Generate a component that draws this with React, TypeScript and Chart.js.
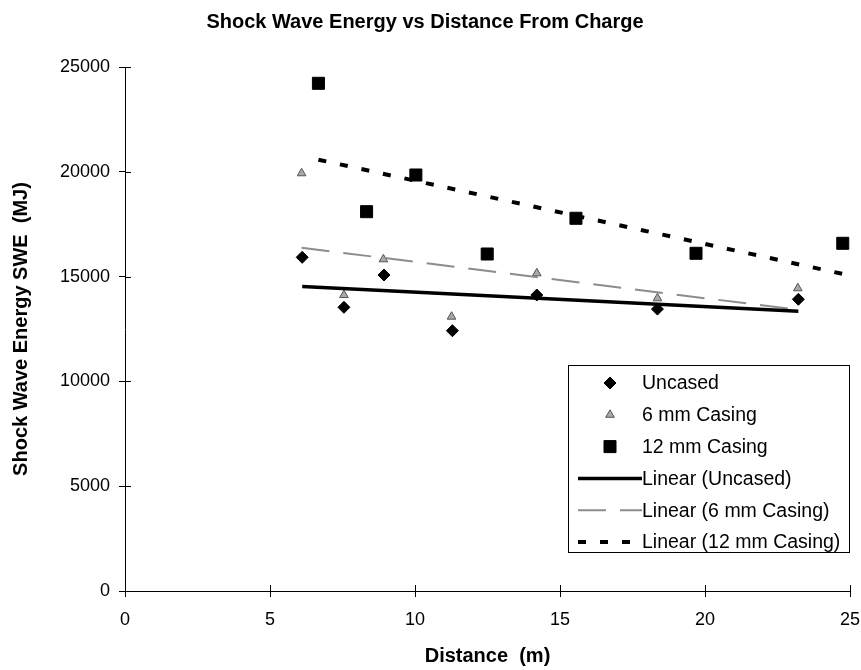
import React, { useEffect, useRef } from "react";
import { Chart, registerables } from "chart.js";

Chart.register(...registerables);

// ---- data ----
const uncasedX = [6.11, 7.55, 8.93, 11.29, 14.2, 18.36, 23.22];
const uncasedY = [15920, 13535, 15076, 12419, 14122, 13450, 13917];
const casing6X = [6.09, 7.55, 8.91, 11.26, 14.2, 18.36, 23.2];
const casing6Y = [19930, 14120, 15825, 13087, 15157, 13965, 14442];
const casing12X = [6.67, 8.33, 10.03, 12.49, 15.55, 19.69, 24.75];
const casing12Y = [24222, 18097, 19847, 16078, 17782, 16112, 16589];

const seriesNames = ["Uncased", "6 mm Casing", "12 mm Casing"];
const xTicks = [0, 5, 10, 15, 20, 25];
const yTicks = [0, 5000, 10000, 15000, 20000, 25000];

const FONT = "'Liberation Sans', Arial, sans-serif";

function toPoints(xs: number[], ys: number[]) {
  return xs.map((x, i) => ({ x, y: ys[i] }));
}

// least-squares trend line (as Excel's "Linear" trendline), spanning the data range
function trend(xs: number[], ys: number[]) {
  const n = xs.length;
  const mx = xs.reduce((a, b) => a + b, 0) / n;
  const my = ys.reduce((a, b) => a + b, 0) / n;
  let sxy = 0;
  let sxx = 0;
  for (let i = 0; i < n; i++) {
    sxy += (xs[i] - mx) * (ys[i] - my);
    sxx += (xs[i] - mx) * (xs[i] - mx);
  }
  const b = sxy / sxx;
  const a = my - b * mx;
  const x0 = Math.min(...xs);
  const x1 = Math.max(...xs);
  return [
    { x: x0, y: a + b * x0 },
    { x: x1, y: a + b * x1 },
  ];
}

function drawMarker(ctx: CanvasRenderingContext2D, style: string, x: number, y: number, r: number, fill: string, stroke: string) {
  ctx.save();
  ctx.fillStyle = fill;
  ctx.strokeStyle = stroke;
  ctx.lineWidth = 1;
  ctx.beginPath();
  if (style === "rectRot") {
    ctx.moveTo(x - r, y);
    ctx.lineTo(x, y - r);
    ctx.lineTo(x + r, y);
    ctx.lineTo(x, y + r);
  } else if (style === "rect") {
    const s = r * Math.SQRT1_2;
    ctx.rect(x - s, y - s, 2 * s, 2 * s);
  } else {
    const h = (r * 3) / Math.sqrt(3);
    ctx.moveTo(x, y - r);
    ctx.lineTo(x + h / 2, y + r / 2);
    ctx.lineTo(x - h / 2, y + r / 2);
  }
  ctx.closePath();
  ctx.fill();
  ctx.stroke();
  ctx.restore();
}

const boxLegend = {
  id: "boxLegend",
  afterDraw(chart: any) {
    const { ctx, chartArea } = chart;
    const w = 282;
    const h = 188;
    const left = chartArea.right - w;
    const top = chartArea.bottom - 38 - h;
    ctx.save();
    ctx.fillStyle = "#fff";
    ctx.fillRect(left, top, w, h);
    ctx.strokeStyle = "#000";
    ctx.lineWidth = 1;
    ctx.strokeRect(left + 0.5, top + 0.5, w - 1, h - 1);
    ctx.font = `19.5px ${FONT}`;
    ctx.textBaseline = "middle";
    ctx.textAlign = "left";
    chart.data.datasets.forEach((ds: any, i: number) => {
      const y = top + 18 + i * 31.8;
      if (ds.showLine) {
        ctx.save();
        ctx.strokeStyle = ds.borderColor;
        ctx.lineWidth = ds.borderWidth;
        ctx.setLineDash(ds.borderDash || []);
        ctx.beginPath();
        ctx.moveTo(left + 10, y);
        ctx.lineTo(left + 74, y);
        ctx.stroke();
        ctx.restore();
      } else {
        drawMarker(ctx, ds.pointStyle, left + 42, y, ds.pointRadius, ds.backgroundColor, ds.borderColor);
      }
      ctx.fillStyle = "#000";
      ctx.fillText(ds.label, left + 74, y + 1);
    });
    ctx.restore();
  },
};

const crossTicks = {
  id: "crossTicks",
  afterDatasetsDraw(chart: any) {
    const { ctx, scales } = chart;
    const xs = scales.x;
    const ys = scales.y;
    ctx.save();
    ctx.strokeStyle = "#000";
    ctx.lineWidth = 1;
    ctx.beginPath();
    xs.ticks.forEach((t: any) => {
      const px = Math.round(xs.getPixelForValue(t.value)) + 0.5;
      ctx.moveTo(px, ys.bottom - 6);
      ctx.lineTo(px, ys.bottom);
    });
    ys.ticks.forEach((t: any) => {
      const py = Math.round(ys.getPixelForValue(t.value)) + 0.5;
      ctx.moveTo(xs.left, py);
      ctx.lineTo(xs.left + 6, py);
    });
    ctx.stroke();
    ctx.restore();
  },
};

export default function App() {
  const ref = useRef<HTMLCanvasElement | null>(null);

  useEffect(() => {
    document.body.style.margin = "0";
    if (!ref.current) return;
    Chart.defaults.font.family = FONT;
    Chart.defaults.color = "#000";

    const chart = new Chart(ref.current, {
      type: "scatter",
      data: {
        datasets: [
          {
            label: seriesNames[0],
            data: toPoints(uncasedX, uncasedY),
            pointStyle: "rectRot",
            pointRadius: 6,
            backgroundColor: "#000",
            borderColor: "#000",
            borderWidth: 1,
            order: 2,
          },
          {
            label: seriesNames[1],
            data: toPoints(casing6X, casing6Y),
            pointStyle: "triangle",
            pointRadius: 5,
            backgroundColor: "#a8a8a8",
            borderColor: "#555",
            borderWidth: 1,
            order: 2,
          },
          {
            label: seriesNames[2],
            data: toPoints(casing12X, casing12Y),
            pointStyle: "rect",
            pointRadius: 8.5,
            backgroundColor: "#000",
            borderColor: "#000",
            borderWidth: 1,
            order: 2,
          },
          {
            label: `Linear (${seriesNames[0]})`,
            data: trend(uncasedX, uncasedY),
            showLine: true,
            pointRadius: 0,
            borderColor: "#000",
            borderWidth: 3.5,
            order: 1,
          },
          {
            label: `Linear (${seriesNames[1]})`,
            data: trend(casing6X, casing6Y),
            showLine: true,
            pointRadius: 0,
            borderColor: "#8c8c8c",
            borderWidth: 2,
            borderDash: [28, 14],
            order: 1,
          },
          {
            label: `Linear (${seriesNames[2]})`,
            data: trend(casing12X, casing12Y),
            showLine: true,
            pointRadius: 0,
            borderColor: "#000",
            borderWidth: 4,
            borderDash: [8, 14],
            order: 1,
          },
        ] as any,
      },
      options: {
        responsive: false,
        animation: false,
        layout: { padding: { left: 0, right: 11, top: 0, bottom: 0 } },
        plugins: {
          legend: { display: false },
          tooltip: { enabled: false },
          title: {
            display: true,
            text: "Shock Wave Energy vs Distance From Charge",
            color: "#000",
            font: { family: FONT, size: 20, weight: "bold" },
            padding: { top: 10, bottom: 33 },
          },
        },
        scales: {
          x: {
            type: "linear",
            min: 0,
            max: 25,
            afterBuildTicks: (s: any) => {
              s.ticks = xTicks.map((v) => ({ value: v }));
            },
            ticks: {
              font: { size: 18, family: FONT },
              color: "#000",
              padding: 12,
              autoSkip: false,
              callback: (v: any) => String(v),
            },
            grid: { display: true, drawOnChartArea: false, tickLength: 6, color: "#000" },
            border: { display: true, color: "#000", width: 1 },
            title: {
              display: true,
              text: "Distance  (m)",
              color: "#000",
              font: { family: FONT, size: 20, weight: "bold" },
              padding: { top: 0, bottom: 2 },
            },
            afterFit: (s: any) => {
              s.height = 79;
              s.paddingLeft = 0;
              s.paddingRight = 0;
            },
          },
          y: {
            type: "linear",
            min: 0,
            max: 25000,
            afterBuildTicks: (s: any) => {
              s.ticks = yTicks.map((v) => ({ value: v }));
            },
            ticks: {
              font: { size: 18, family: FONT },
              color: "#000",
              padding: 9,
              callback: (v: any) => String(v),
            },
            grid: { display: true, drawOnChartArea: false, tickLength: 6, color: "#000" },
            border: { display: true, color: "#000", width: 1 },
            title: {
              display: true,
              text: "Shock Wave Energy SWE  (MJ)",
              color: "#000",
              font: { family: FONT, size: 20, weight: "bold" },
              padding: { top: 9, bottom: 0 },
            },
            afterFit: (s: any) => {
              s.width = 125;
              s.paddingTop = 0;
              s.paddingBottom = 0;
            },
          },
        },
      } as any,
      plugins: [crossTicks, boxLegend],
    });
    return () => chart.destroy();
  }, []);

  return <canvas ref={ref} width={861} height={670} style={{ display: "block" }} />;
}
